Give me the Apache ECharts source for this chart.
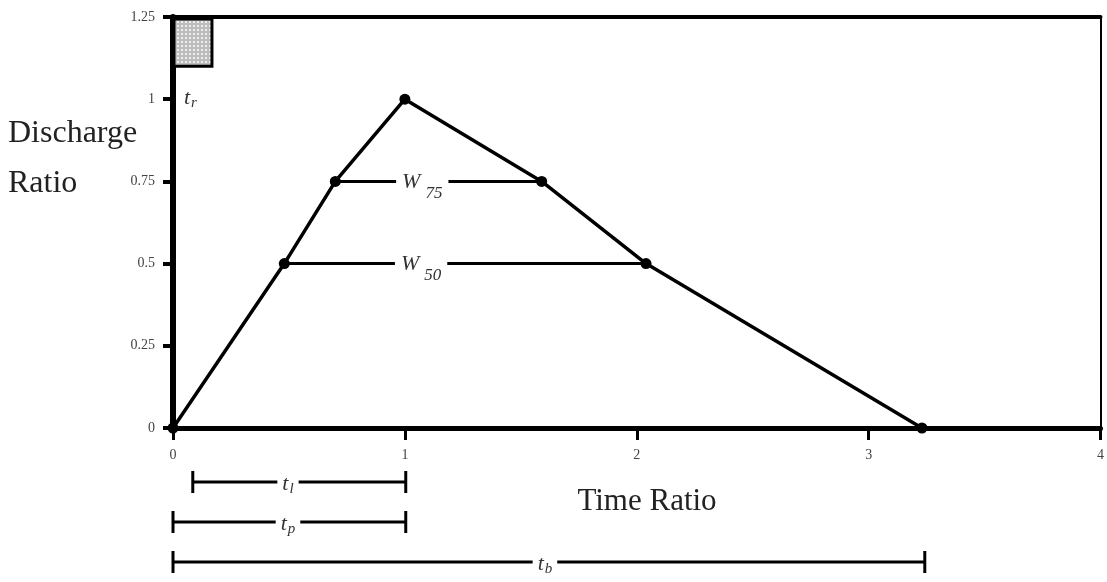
<!DOCTYPE html>
<html>
<head>
<meta charset="utf-8">
<title>Dimensionless unit hydrograph</title>
<script src="https://cdn.jsdelivr.net/npm/echarts@6/dist/echarts.min.js"></script>
<style>
    html, body { margin: 0; padding: 0; background: #fff; }
    #main { width: 1107px; height: 582px; }
</style>
</head>
<body>
<div id="main"></div>
<script>
// hydrograph points: time ratio / discharge ratio
var timeRatio = [0, 0.48, 0.7, 1, 1.59, 2.04, 3.23];
var dischargeRatio = [0, 0.5, 0.75, 1, 0.75, 0.5, 0];
var xTicks = [0, 1, 2, 3, 4];
var yTicks = [0, 0.25, 0.5, 0.75, 1, 1.25];

// widths at 75% and 50% of peak
var widthNames = ['75', '50'];
var widthLevels = [0.75, 0.5];
var widthStart = [0.7, 0.48];
var widthEnd = [1.59, 2.04];
var widthLabelAt = [1.075, 1.07];

// time bars under the axis (t_l, t_p, t_b)
var dimNames = ['l', 'p', 'b'];
var dimStart = [0.085, 0, 0];
var dimEnd = [1, 1, 3.23];
var dimLabelAt = [0.494, 0.494, 1.598];

// rainfall duration box t_r
var trStart = 0, trEnd = 0.168;
var trBottom = 1.1, trTop = 1.25;

var serif = '"Liberation Serif", "DejaVu Serif", serif';

// dotted gray fill for the t_r box
var dots = document.createElement('canvas');
dots.width = 4; dots.height = 4;
var dctx = dots.getContext('2d');
dctx.fillStyle = '#bdbdbd';
dctx.fillRect(0, 0, 4, 4);
dctx.fillStyle = '#ededed';
dctx.fillRect(1, 1, 2, 2);

var myChart = echarts.init(document.getElementById('main'));

var series = [];

// W75 / W50 lines
widthNames.forEach(function (n, i) {
    series.push({
        type: 'line', xAxisIndex: 0, yAxisIndex: 0, z: 3,
        data: [[widthStart[i], widthLevels[i]], [widthEnd[i], widthLevels[i]]],
        symbol: 'none', silent: true,
        lineStyle: { color: '#000', width: 3 }
    });
});
series.push({
    type: 'scatter', xAxisIndex: 0, yAxisIndex: 0, z: 4,
    symbolSize: 0, silent: true, itemStyle: { opacity: 1 },
    data: widthNames.map(function (n, i) { return [widthLabelAt[i], widthLevels[i], n]; }),
    label: {
        show: true, position: 'inside', offset: [0, 5],
        backgroundColor: '#fff', padding: [0, 6],
        formatter: function (p) { return '{w|W}{s|' + p.value[2] + '}'; },
        rich: {
            w: { fontFamily: serif, fontStyle: 'italic', fontSize: 22, color: '#333', verticalAlign: 'top' },
            s: { fontFamily: serif, fontStyle: 'italic', fontSize: 17, color: '#333', verticalAlign: 'top', padding: [14, 0, 0, 5] }
        }
    }
});

// main hydrograph
series.push({
    type: 'line', xAxisIndex: 0, yAxisIndex: 0, z: 5,
    data: timeRatio.map(function (t, i) { return [t, dischargeRatio[i]]; }),
    symbol: 'circle', symbolSize: 11, showAllSymbol: true,
    itemStyle: { color: '#000' },
    lineStyle: { color: '#000', width: 3.5 }
});

// t_r box
series.push({
    type: 'custom', xAxisIndex: 0, yAxisIndex: 0, z: 2,
    data: [[trStart, trEnd, trBottom, trTop]],
    renderItem: function (params, api) {
        var p0 = api.coord([api.value(0), api.value(3)]);
        var p1 = api.coord([api.value(1), api.value(2)]);
        return {
            type: 'rect',
            shape: { x: p0[0] + 1, y: p0[1] + 2, width: p1[0] - p0[0] - 1, height: p1[1] - p0[1] - 2 },
            style: { fill: { image: dots, repeat: 'repeat' }, stroke: '#000', lineWidth: 3 }
        };
    }
});
series.push({
    type: 'scatter', xAxisIndex: 0, yAxisIndex: 0, symbolSize: 0, silent: true,
    itemStyle: { opacity: 1 },
    data: [[0.075, 1]],
    label: {
        show: true, position: 'inside',
        formatter: '{t|t}{s|r}',
        rich: {
            t: { fontFamily: serif, fontStyle: 'italic', fontSize: 22, color: '#333', verticalAlign: 'top' },
            s: { fontFamily: serif, fontStyle: 'italic', fontSize: 15, color: '#333', verticalAlign: 'top', padding: [8, 0, 0, 1] }
        }
    }
});

// time bars below the chart
dimNames.forEach(function (n, i) {
    series.push({
        type: 'line', xAxisIndex: 2, yAxisIndex: 2,
        data: [[dimStart[i], i + 1], [dimEnd[i], i + 1]],
        symbol: 'rect', symbolSize: [3, 22], silent: true,
        itemStyle: { color: '#000' },
        lineStyle: { color: '#000', width: 3 }
    });
});
series.push({
    type: 'scatter', xAxisIndex: 2, yAxisIndex: 2, z: 4,
    symbolSize: 0, silent: true, itemStyle: { opacity: 1 },
    data: dimNames.map(function (n, i) { return [dimLabelAt[i], i + 1, n]; }),
    label: {
        show: true, position: 'inside', offset: [0, 3],
        backgroundColor: '#fff', padding: [0, 5],
        formatter: function (p) { return '{t|t}{s|' + p.value[2] + '}'; },
        rich: {
            t: { fontFamily: serif, fontStyle: 'italic', fontSize: 22, color: '#333', verticalAlign: 'top' },
            s: { fontFamily: serif, fontStyle: 'italic', fontSize: 15, color: '#333', verticalAlign: 'top', padding: [8, 0, 0, 1] }
        }
    }
});

var options = {
    animation: false,
    backgroundColor: '#fff',
    grid: [
        { left: 173, right: 3, top: 17, bottom: 154 },
        { left: 173, right: 3, top: 462, height: 123 }
    ],
    xAxis: [
        {
            type: 'value', gridIndex: 0,
            min: xTicks[0], max: xTicks[xTicks.length - 1], interval: xTicks[1] - xTicks[0],
            axisLine: { onZero: false, lineStyle: { color: '#000', width: 5 } },
            axisTick: { length: 12, lineStyle: { color: '#000', width: 3 } },
            axisLabel: { fontFamily: serif, fontSize: 14, color: '#444', margin: 20 },
            splitLine: { show: false }
        },
        {
            type: 'value', gridIndex: 0, position: 'top',
            min: xTicks[0], max: xTicks[xTicks.length - 1],
            axisLine: { onZero: false, lineStyle: { color: '#000', width: 4 } },
            axisTick: { show: false }, axisLabel: { show: false }, splitLine: { show: false }
        },
        { type: 'value', gridIndex: 1, min: xTicks[0], max: xTicks[xTicks.length - 1], show: false }
    ],
    yAxis: [
        {
            type: 'value', gridIndex: 0,
            min: yTicks[0], max: yTicks[yTicks.length - 1], interval: yTicks[1] - yTicks[0],
            axisLine: { onZero: false, lineStyle: { color: '#000', width: 6 } },
            axisTick: { length: 10, lineStyle: { color: '#000', width: 4 } },
            axisLabel: { fontFamily: serif, fontSize: 14, color: '#444', margin: 18 },
            splitLine: { show: false }
        },
        {
            type: 'value', gridIndex: 0, position: 'right',
            min: yTicks[0], max: yTicks[yTicks.length - 1],
            axisLine: { onZero: false, lineStyle: { color: '#000', width: 2 } },
            axisTick: { show: false }, axisLabel: { show: false }, splitLine: { show: false }
        },
        { type: 'value', gridIndex: 1, min: 0.5, max: 3.5, inverse: true, show: false }
    ],
    graphic: [
        { type: 'text', style: { text: 'Discharge', x: 8, y: 134, font: '32px ' + serif, fill: '#222', verticalAlign: 'middle' } },
        { type: 'text', style: { text: 'Ratio', x: 8, y: 184, font: '32px ' + serif, fill: '#222', verticalAlign: 'middle' } },
        { type: 'text', style: { text: 'Time Ratio', x: 647, y: 502, font: '31px ' + serif, fill: '#222', align: 'center', verticalAlign: 'middle' } }
    ],
    series: series
};
myChart.setOption(options);
</script>
</body>
</html>
